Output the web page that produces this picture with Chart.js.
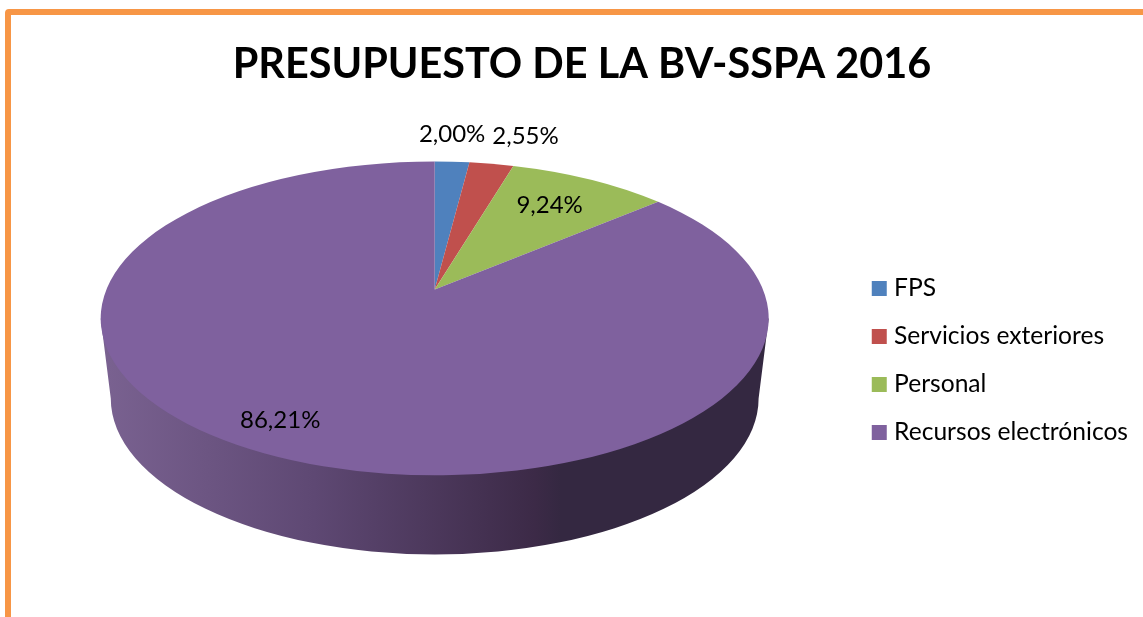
<!DOCTYPE html>
<html lang="es">
<head>
<meta charset="utf-8">
<title>Presupuesto de la BV-SSPA 2016</title>
<script src="https://cdn.jsdelivr.net/npm/chart.js@4"></script>
<style>
  html, body { margin: 0; height: 100%; background: #fff; overflow: hidden; }
  #frame {
    position: absolute; left: 5px; top: 9px; width: 1200px; height: 700px;
    border: 6px solid #F79646; border-radius: 4px 0 0 0;
  }
  #wrap { position: absolute; left: 0; top: 0; width: 1143px; height: 617px; }
</style>
</head>
<body>
<div id="frame"></div>
<div id="wrap"><canvas id="chart"></canvas></div>
<script>
'use strict';

const categories = ['FPS', 'Servicios exteriores', 'Personal', 'Recursos electrónicos'];
const shares = [2.00, 2.55, 9.24, 86.21];
const sliceColors = ['#4F81BD', '#C0504D', '#9BBB59', '#7F619E'];

const fontFamily = 'Lato, "Open Sans", sans-serif';

// pie shape relative to the chart's own radius
const TOP_RX = 1.292;
const TOP_RY = 0.607;
const TOP_SHIFT = -0.155;
const BOTTOM_RX = 1.253;
const BOTTOM_RY = 0.603;
const BOTTOM_SHIFT = 0.155;
const SIDE_SHIFT = -0.0193;
const PERSPECTIVE = 0.83;

// label nudges from the rim of each slice, in px
const labelNudges = [[0, -27], [34, -28], [-40, 26], [11, -34]];

const formatShare = (v) => `${v.toFixed(2).replace('.', ',')}%`;

// far side of the disc looks narrower, the apex moves up with it
const warpAngle = (angle) => {
  const half = (angle + Math.PI / 2) / 2;
  return 2 * Math.atan2(PERSPECTIVE * Math.sin(half), Math.cos(half)) - Math.PI / 2;
};

const discGeometry = (arc) => {
  const r = arc.outerRadius;
  const rx = r * TOP_RX;
  const ry = r * TOP_RY;
  const cy = arc.y + r * TOP_SHIFT;
  const beta = (1 - PERSPECTIVE * PERSPECTIVE) / (1 + PERSPECTIVE * PERSPECTIVE);
  return { cx: arc.x + r * SIDE_SHIFT, cy, rx, ry, apexY: cy - ry * beta };
};

const pie3d = {
  id: 'pie3d',
  beforeDatasetsDraw(chart) {
    const { ctx } = chart;
    const arcs = chart.getDatasetMeta(0).data;
    const r = arcs[0].outerRadius;
    const { cx, cy, rx } = discGeometry(arcs[0]);
    const bottomCy = arcs[0].y + r * BOTTOM_SHIFT;

    const wall = ctx.createLinearGradient(cx - rx, 0, cx + rx, 0);
    wall.addColorStop(0, '#7A6291');
    wall.addColorStop(0.32, '#5E4873');
    wall.addColorStop(0.65, '#3C2A47');
    wall.addColorStop(0.69, '#342841');
    wall.addColorStop(1, '#342841');

    ctx.save();
    ctx.beginPath();
    ctx.moveTo(cx - rx, cy);
    ctx.ellipse(cx, bottomCy, r * BOTTOM_RX, r * BOTTOM_RY, 0, Math.PI, 0, true);
    ctx.lineTo(cx + rx, cy);
    ctx.closePath();
    ctx.fillStyle = wall;
    ctx.fill();

    arcs.forEach((arc, i) => {
      const g = discGeometry(arc);
      ctx.beginPath();
      ctx.moveTo(g.cx, g.apexY);
      ctx.ellipse(g.cx, g.cy, g.rx, g.ry, 0, warpAngle(arc.startAngle), warpAngle(arc.endAngle));
      ctx.closePath();
      ctx.fillStyle = sliceColors[i];
      ctx.fill();
    });
    ctx.restore();
    return false;
  },
  afterDraw(chart) {
    const { ctx } = chart;
    ctx.save();
    ctx.font = `24px ${fontFamily}`;
    ctx.fillStyle = '#000';
    ctx.textAlign = 'center';
    ctx.textBaseline = 'middle';
    chart.getDatasetMeta(0).data.forEach((arc, i) => {
      const g = discGeometry(arc);
      const mid = warpAngle((arc.startAngle + arc.endAngle) / 2);
      const x = g.cx + g.rx * Math.cos(mid) + labelNudges[i][0];
      const y = g.cy + g.ry * Math.sin(mid) + labelNudges[i][1];
      ctx.fillText(formatShare(shares[i]), x, y);
    });
    ctx.restore();
  },
};

new Chart(document.getElementById('chart'), {
  type: 'pie',
  data: {
    labels: categories,
    datasets: [{ data: shares, backgroundColor: sliceColors, borderWidth: 0 }],
  },
  plugins: [pie3d],
  options: {
    responsive: true,
    maintainAspectRatio: false,
    animation: false,
    layout: { padding: { left: 26, right: 5 } },
    plugins: {
      tooltip: { enabled: false },
      title: {
        display: true,
        text: 'PRESUPUESTO DE LA BV-SSPA 2016',
        color: '#000',
        font: { family: fontFamily, size: 41.4, weight: 'bold' },
        padding: { top: 40, bottom: 10.3 },
      },
      legend: {
        position: 'right',
        // empty title only pushes the centred items down
        title: { display: true, text: ' ', font: { size: 24 }, padding: { top: 0, bottom: 75 } },
        labels: {
          color: '#000',
          font: { family: fontFamily, size: 24.6 },
          boxWidth: 5,
          boxHeight: 5,
          padding: 23.4,
          // a wide stroke makes the 15px square but keeps the text close to it
          generateLabels: () => categories.map((text, index) => ({
            text,
            index,
            fillStyle: sliceColors[index],
            strokeStyle: sliceColors[index],
            lineWidth: 10,
            fontColor: '#000',
          })),
        },
      },
    },
  },
});
</script>
</body>
</html>
